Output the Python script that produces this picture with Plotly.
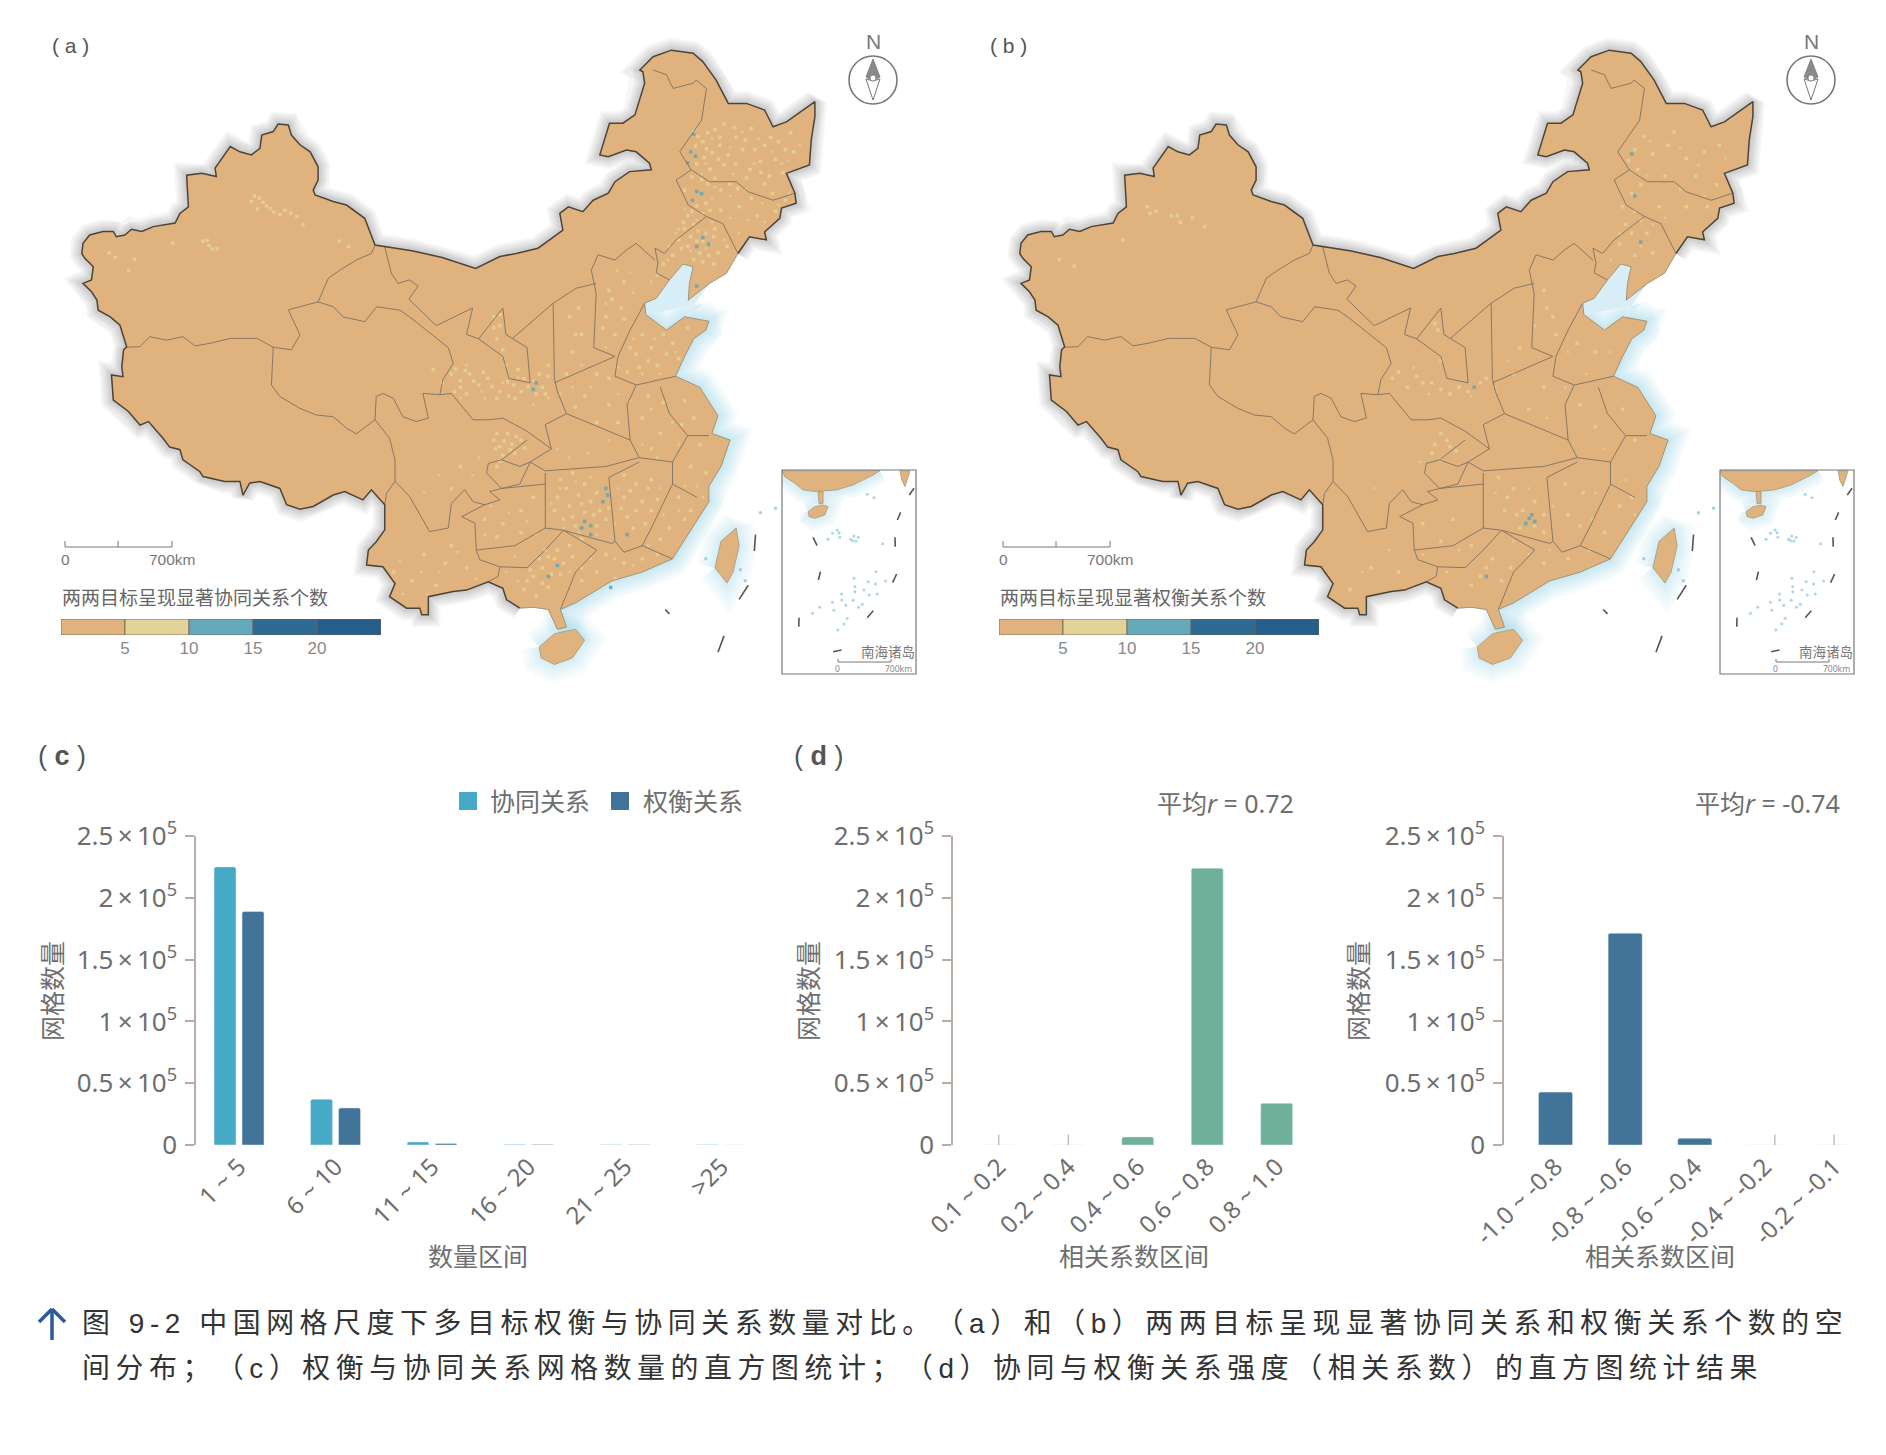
import plotly.graph_objects as go

W, H = 1886, 1455
SANS = "Noto Sans, Noto Sans CJK SC, sans-serif"
LATIN = "Liberation Sans, Noto Sans CJK SC, sans-serif"

# ---------- bar data ----------
count_bins = ["1 ~ 5", "6 ~ 10", "11 ~ 15", "16 ~ 20", "21 ~ 25", ">25"]
synergy_counts = [225000, 37000, 2500, 500, 250, 150]
tradeoff_counts = [189000, 30000, 1200, 350, 150, 100]

pos_bins = ["0.1 ~ 0.2", "0.2 ~ 0.4", "0.4 ~ 0.6", "0.6 ~ 0.8", "0.8 ~ 1.0"]
pos_counts = [0, 0, 6500, 224000, 33800]
neg_bins = ["-1.0 ~ -0.8", "-0.8 ~ -0.6", "-0.6 ~ -0.4", "-0.4 ~ -0.2", "-0.2 ~ -0.1"]
neg_counts = [42800, 171400, 5500, 0, 0]

count_ticks = [0, 50000, 100000, 150000, 200000, 250000]
count_ticktext = ["0", "0.5\u2009×\u200910<sup>5</sup>", "1\u2009×\u200910<sup>5</sup>", "1.5\u2009×\u200910<sup>5</sup>",
                  "2\u2009×\u200910<sup>5</sup>", "2.5\u2009×\u200910<sup>5</sup>"]

# ---------- map geometry, in planar map units ----------
border = [
    (858, 1382), (836, 1363), (830, 1337), (806, 1322), (770, 1341), (748, 1344), (707, 1356), (707, 1397), (696, 1397),
    (693, 1382), (671, 1382), (643, 1356), (652, 1326), (632, 1288), (605, 1284), (608, 1250), (621, 1231), (635, 1204),
    (635, 1147), (613, 1113), (599, 1136), (569, 1117), (550, 1125), (517, 1151), (495, 1157), (473, 1147), (462, 1110),
    (429, 1094), (412, 1098), (401, 1125), (396, 1094), (371, 1094), (335, 1083), (330, 1072), (302, 1045), (297, 1022),
    (280, 1016), (269, 996), (245, 958), (231, 966), (212, 935), (187, 909), (184, 852), (203, 856), (201, 833), (204, 795),
    (209, 788), (198, 739), (182, 720), (162, 705), (160, 682), (151, 663), (137, 644), (151, 636), (154, 606), (140, 587),
    (135, 576), (137, 553), (148, 534), (170, 526), (187, 526), (192, 538), (206, 534), (217, 521), (234, 526), (253, 515),
    (289, 507), (297, 485), (311, 470), (308, 398), (333, 394), (357, 401), (355, 382), (380, 333), (396, 345), (415, 352),
    (429, 337), (432, 307), (451, 299), (459, 282), (476, 284), (481, 307), (495, 329), (512, 345), (525, 379), (525, 409),
    (517, 432), (520, 443), (550, 458), (572, 466), (602, 496), (619, 557), (680, 570), (730, 585), (785, 610), (825, 583),
    (852, 576), (888, 564), (907, 545), (929, 523), (924, 485), (938, 470), (962, 481), (979, 455), (1004, 439), (1015, 413),
    (1039, 390), (1075, 386), (1072, 371), (1050, 345), (1034, 341), (1004, 356), (990, 352), (1006, 280), (1028, 280),
    (1048, 261), (1064, 189), (1061, 163), (1056, 159), (1078, 129), (1108, 114), (1144, 121), (1160, 140), (1182, 182),
    (1202, 235), (1232, 235), (1262, 250), (1276, 288), (1298, 277), (1345, 231), (1345, 265), (1339, 318), (1336, 375),
    (1298, 394), (1312, 439), (1314, 462), (1290, 473), (1287, 496), (1262, 527), (1265, 545), (1237, 538), (1218, 576),
]
coast = [
    (1218, 576), (1199, 621), (1171, 644), (1136, 682), (1138, 644), (1144, 606), (1127, 600), (1105, 636), (1083, 678),
    (1064, 689), (1066, 715), (1100, 750), (1130, 720), (1170, 730), (1165, 750), (1145, 770), (1130, 810), (1115, 855),
    (1155, 880), (1185, 945), (1175, 985), (1205, 1000), (1190, 1060), (1170, 1105), (1170, 1140), (1145, 1195), (1110, 1270),
    (1060, 1300), (1010, 1320), (950, 1370), (925, 1385), (935, 1425), (920, 1430), (905, 1385), (880, 1380), (858, 1382),
]
hainan = [(890, 1470), (915, 1440), (950, 1430), (965, 1455), (945, 1495), (915, 1510), (893, 1495), (890, 1470)]
taiwan = [(1180, 1290), (1190, 1230), (1215, 1200), (1220, 1240), (1210, 1300), (1200, 1325), (1180, 1290)]

# provincial boundaries, as separate polylines
provinces = [
    [(209, 789), (231, 788), (247, 765), (275, 773), (302, 765), (322, 786), (347, 780), (380, 769), (424, 769), (451, 789), (481, 795), (495, 761), (476, 704), (525, 686), (542, 632), (561, 614), (588, 591), (613, 576), (619, 557)],
    [(635, 561), (646, 621), (657, 644), (676, 636), (690, 650), (675, 680), (720, 740), (780, 700), (770, 760), (790, 770), (830, 700), (835, 760), (870, 790), (875, 870), (840, 860), (830, 810), (790, 770)],
    [(525, 686), (550, 697), (566, 720), (602, 731), (622, 697), (660, 705), (676, 720), (740, 790), (748, 826), (731, 863), (726, 897), (745, 894), (781, 954), (808, 954), (830, 950), (870, 980), (910, 1020), (875, 1050), (900, 1070), (1000, 1060), (1055, 1040), (1110, 1050), (1135, 990), (1170, 990)],
    [(451, 789), (448, 875), (462, 901), (495, 928), (522, 943), (550, 947), (572, 973), (588, 986), (619, 954), (621, 901), (632, 894), (649, 905), (665, 947), (687, 958), (707, 950), (698, 894), (726, 897)],
    [(619, 954), (643, 996), (652, 1045), (652, 1094), (638, 1121), (635, 1147)],
    [(652, 1094), (676, 1128), (709, 1208), (740, 1200), (745, 1144), (767, 1113), (781, 1140), (800, 1147), (825, 1136), (808, 1117), (828, 1110), (803, 1075), (806, 1053), (828, 1045), (870, 1000)],
    [(828, 1045), (858, 1060), (875, 1050), (858, 1100), (828, 1110), (900, 1100)],
    [(800, 1147), (762, 1174), (784, 1189), (786, 1250), (792, 1272), (825, 1288), (822, 1310), (806, 1322)],
    [(786, 1250), (850, 1240), (900, 1200)],
    [(1078, 159), (1100, 170), (1111, 201), (1144, 189), (1149, 182), (1166, 201), (1158, 273), (1122, 345), (1141, 386), (1116, 409), (1136, 466), (1166, 492)],
    [(1141, 386), (1171, 413), (1215, 413), (1235, 436), (1276, 455), (1312, 439)],
    [(1166, 492), (1193, 508), (1218, 576)],
    [(1166, 492), (1116, 545), (1097, 576), (1081, 564), (1086, 598), (1083, 620), (1105, 636)],
    [(1081, 591), (1050, 553), (1034, 568), (1015, 591), (987, 579), (976, 614), (984, 667), (980, 790), (1015, 810), (915, 870)],
    [(984, 644), (951, 655), (913, 689), (845, 770)],
    [(913, 689), (915, 860), (920, 890), (935, 940), (900, 965), (910, 1020)],
    [(1064, 689), (1040, 750), (1020, 810), (1015, 855), (1050, 875), (1115, 855)],
    [(935, 940), (1040, 1000), (1035, 920), (1050, 875)],
    [(1040, 1000), (1055, 1040)],
    [(1090, 880), (1105, 940), (1135, 990)],
    [(900, 1075), (900, 1200), (930, 1205), (1010, 1235), (1015, 1230), (1005, 1085)],
    [(1005, 1085), (1055, 1050)],
    [(1110, 1050), (1110, 1100), (1075, 1200), (1060, 1240), (1030, 1255), (1015, 1230)],
    [(1060, 1240), (1110, 1270)],
    [(1110, 1100), (1150, 1130)],
    [(930, 1205), (985, 1250), (950, 1300), (925, 1385)],
    [(825, 1288), (870, 1290), (900, 1250), (930, 1205)],
]

# grid cells with 5-10 significant pairs
cells_mid_a = [
    (1145, 300), (1160, 322), (1180, 295), (1195, 282), (1215, 312), (1240, 292), (1262, 330), (1285, 322), (1305, 302), (1175, 347),
    (1202, 352), (1226, 340), (1255, 367), (1280, 362), (1310, 345), (1150, 372), (1172, 385), (1195, 375), (1238, 385), (1270, 400),
    (1262, 418), (1292, 392), (1168, 418), (1190, 432), (1218, 428), (1240, 450), (1275, 440), (1296, 455), (1130, 432), (1165, 462),
    (1190, 478), (1220, 470), (1250, 490), (1280, 480), (1135, 490), (1130, 520), (1145, 510), (1165, 530), (1180, 520), (1172, 555),
    (1185, 575), (1155, 575), (1135, 560), (1120, 545), (1110, 580), (1160, 595), (1178, 600), (1095, 600),
    (1152, 310), (1168, 302), (1188, 312), (1148, 332), (1166, 338), (1188, 330), (1212, 290), (1230, 318), (1246, 340), (1272, 312),
    (1296, 340), (1162, 358), (1186, 362), (1214, 372), (1232, 404), (1256, 392), (1142, 402), (1158, 408), (1180, 405), (1205, 418),
    (1150, 468), (1172, 478), (1142, 480), (1160, 485), (1128, 505), (1152, 525), (1140, 538), (1160, 548), (1150, 548), (1178, 538),
    (1125, 565), (1145, 590), (1170, 580), (1200, 560), (1105, 560), (1085, 625),
    (415, 458), (428, 450), (440, 468), (452, 482), (470, 478), (490, 492), (500, 510), (425, 475), (335, 548), (345, 558), (358, 565),
    (420, 446), (434, 460), (446, 474), (462, 488), (480, 484), (342, 546), (350, 566),
    (285, 552), (180, 575), (190, 585), (222, 590), (212, 615), (560, 548), (575, 560), (815, 720), (825, 740), (820, 770),
    (745, 850), (760, 865), (775, 850), (790, 875), (805, 860), (825, 890), (848, 875), (860, 890), (895, 880), (905, 855), (750, 890),
    (770, 895), (835, 830), (855, 840), (830, 795), (715, 840), (730, 870), (960, 760), (945, 800), (935, 850), (955, 700), (1000, 720),
    (752, 838), (768, 842), (782, 866), (798, 846), (812, 878), (838, 868), (872, 878), (885, 895), (900, 895), (840, 900), (760, 880),
    (820, 905), (850, 905), (865, 860), (890, 850), (905, 830), (825, 715), (815, 745),
    (1010, 680), (1030, 640), (1015, 760), (1040, 790), (1060, 760), (1075, 790), (1095, 760), (1110, 780), (1055, 835), (1085, 830),
    (1025, 700), (1005, 660), (995, 745), (1030, 725), (1050, 805), (1070, 820), (1100, 805), (1035, 845), (1120, 815), (1135, 745),
    (985, 850), (965, 900), (1005, 920), (985, 960), (1070, 900), (1060, 950), (1090, 985), (1075, 1020), (1130, 910), (1145, 950),
    (1125, 965), (1155, 1010), (1140, 1060), (1165, 1075), (950, 760), (940, 720), (1005, 860), (950, 925), (1020, 960), (1095, 915),
    (815, 1000), (825, 1015), (838, 985), (845, 1010), (860, 1000), (830, 1035), (850, 1030), (820, 1060), (760, 1060), (745, 1110),
    (820, 985), (832, 1002), (852, 992), (842, 1022), (825, 1048), (818, 1020), (866, 1018),
    (925, 1090), (945, 1075), (965, 1100), (985, 1120), (920, 1130), (940, 1150), (960, 1145), (980, 1170), (930, 1180), (1000, 1180),
    (935, 1110), (955, 1125), (975, 1140), (990, 1160), (915, 1160), (945, 1175), (965, 1165), (985, 1195), (950, 1195), (1005, 1155),
    (1030, 1080), (1050, 1100), (1075, 1090), (1030, 1130), (1060, 1140), (1085, 1135), (1035, 1175), (1065, 1190), (1120, 1130), (1140, 1160),
    (1040, 1115), (1070, 1110), (1025, 1155), (1050, 1160), (1075, 1160), (1045, 1200), (1130, 1180), (1105, 1200), (1090, 1225),
    (800, 1180), (830, 1190), (860, 1160), (880, 1130), (820, 1220), (860, 1210), (900, 1250), (915, 1270), (895, 1290), (880, 1310),
    (925, 1305), (905, 1335), (865, 1340), (885, 1355), (940, 1240), (960, 1225), (1000, 1260), (1030, 1280), (1060, 1270), (1085, 1260),
    (905, 1265), (920, 1250), (930, 1280), (910, 1305), (895, 1325), (875, 1295), (890, 1270), (945, 1265), (960, 1290), (870, 1320),
    (985, 1300), (1015, 1315), (960, 1320), (700, 1260), (735, 1280), (680, 1320), (720, 1330), (770, 1290), (650, 1300), (745, 1240),
]
cells_fine_a = [
    (1150, 290), (1175, 315), (1205, 335), (1225, 300), (1252, 315), (1275, 345), (1300, 365), (1320, 330), (1165, 372), (1210, 395),
    (1245, 372), (1290, 372), (1158, 395), (1180, 425), (1205, 445), (1230, 430), (1258, 462), (1285, 465), (1302, 440), (1175, 450),
    (1150, 500), (1175, 505), (1205, 495), (1235, 500), (1262, 505), (1130, 475), (1120, 520), (1140, 570), (1165, 565), (1195, 545),
    (1220, 530), (1115, 530), (1102, 590), (1130, 600), (1075, 640), (1040, 620), (1018, 615), (1000, 690), (1045, 665),
    (770, 830), (795, 890), (830, 870), (855, 858), (880, 865), (800, 905), (905, 905), (880, 920), (925, 895), (945, 880), (760, 905),
    (1000, 790), (1020, 835), (1045, 770), (1080, 770), (1115, 800), (1060, 850), (1090, 850), (960, 830), (975, 880), (1020, 895),
    (1040, 910), (1075, 930), (1110, 960), (1085, 1040), (1060, 1010), (1005, 1000), (970, 1030), (940, 1040), (920, 1020), (1120, 1010),
    (925, 1110), (950, 1095), (975, 1085), (910, 1145), (930, 1200), (955, 1210), (985, 1215), (1015, 1190), (1020, 1110), (1090, 1110),
    (1095, 1170), (1120, 1160), (1150, 1105), (1160, 1130), (1130, 1105), (1015, 1270), (1045, 1285), (1070, 1240), (975, 1270), (940, 1300),
    (800, 1215), (840, 1165), (810, 1150), (870, 1185), (885, 1215), (850, 1265), (835, 1300), (855, 1320), (785, 1315), (755, 1255),
    (695, 1300), (660, 1275), (725, 1300), (705, 1350), (665, 1350), (790, 1040), (780, 1080), (725, 1080), (700, 1120),
]
cells_high_a = [
    (1145, 305), (1140, 345), (1148, 355), (1135, 370), (1150, 435), (1143, 455), (1158, 440), (1160, 540), (1150, 560), (1170, 555),
    (1000, 1110), (1003, 1125), (995, 1140), (965, 1185), (975, 1195), (960, 1200), (880, 885), (885, 870), (920, 1285), (905, 1310),
    (1035, 1215), (1008, 1335), (1150, 650), (975, 1215),
]
cells_mid_b = [
    (1150, 340), (1180, 350), (1205, 330), (1235, 360), (1265, 345), (1290, 330), (1155, 385), (1200, 400), (1250, 400), (1285, 420),
    (1145, 440), (1190, 470), (1235, 470), (1270, 470), (1135, 510), (1170, 530), (1150, 580), (1125, 555), (1160, 500), (1180, 575),
    (1140, 365), (1165, 310), (1215, 300), (1160, 420), (1130, 470), (1150, 480), (1145, 530),
    (345, 470), (360, 480), (385, 490), (400, 505), (420, 495), (440, 515), (305, 545), (200, 590), (225, 605), (350, 485), (395, 490),
    (750, 860), (775, 880), (800, 870), (830, 885), (860, 880), (895, 870), (830, 820), (825, 750), (960, 790), (950, 850),
    (760, 845), (790, 855), (815, 870), (845, 895), (875, 890), (905, 860), (820, 735), (1000, 660), (1015, 720),
    (1005, 700), (1020, 760), (1055, 780), (1085, 800), (1000, 880), (975, 930), (1060, 920), (1085, 970), (1130, 930), (1150, 1000),
    (820, 1010), (840, 1000), (855, 1025), (830, 1045), (925, 1085), (950, 1110), (985, 1140), (935, 1160), (960, 1200), (1000, 1210),
    (830, 985), (845, 1015), (815, 1030), (940, 1130), (965, 1160), (1000, 1170), (985, 1195), (955, 1170),
    (1035, 1100), (1065, 1120), (1040, 1170), (1080, 1180), (1125, 1150), (800, 1190), (850, 1180), (830, 1230), (880, 1240),
    (905, 1290), (880, 1330), (930, 1320), (1000, 1280), (1040, 1270), (1075, 1250), (715, 1290), (760, 1300), (680, 1340),
    (895, 1310), (915, 1270), (945, 1290), (1060, 1195), (1100, 1210), (1145, 1130),
]
cells_fine_b = [
    (1175, 320), (1225, 335), (1255, 375), (1300, 360), (1170, 400), (1225, 430), (1265, 445), (1200, 495), (1180, 510), (1125, 530),
    (1160, 560), (1110, 590), (785, 835), (810, 895), (880, 900), (920, 880), (940, 820), (985, 740), (1040, 800), (1070, 850),
    (1110, 800), (1035, 880), (1005, 950), (1100, 1020), (920, 1120), (975, 1110), (1015, 1150), (1085, 1120), (1135, 1090), (1150, 1170),
    (1010, 1250), (975, 1260), (950, 1230), (860, 1250), (800, 1260), (840, 1300), (745, 1250), (700, 1300), (720, 1110), (795, 1050),
]
cells_high_b = [
    (976, 1178), (985, 1185), (970, 1190), (980, 1170), (1145, 350), (1150, 445), (1160, 550), (885, 880), (905, 1310),
]

# southern sea dashes and outlying islets
dash_x = [1247, 1245, None, 1235, 1220, None, 1195, 1185, None, 1098, 1105]
dash_y = [1215, 1252, None, 1330, 1362, None, 1445, 1482, None, 1385, 1395]
islet_x = [1255, 1280, 1165, 1222, 1230]
islet_y = [1165, 1155, 1270, 1295, 1320]

# inset of the South China Sea, in its own planar units
inset_coast_x = [68, 75, 105, 130, 170, 230, 280, 340, 360, 68]
inset_coast_y = [62, 80, 100, 120, 125, 120, 105, 75, 62, 62]
inset_hainan_x = [145, 165, 190, 205, 195, 165, 148, 145]
inset_hainan_y = [185, 170, 165, 170, 195, 205, 200, 185]
inset_peninsula_x = [175, 190, 190, 178, 175]
inset_peninsula_y = [125, 125, 160, 162, 125]
inset_taiwan_x = [420, 450, 445, 435, 425, 420]
inset_taiwan_y = [62, 62, 80, 110, 90, 62]
inset_dash_x = [160, 172, None, 182, 176, None, 118, 117, None, 220, 245, None, 340, 322, None, 410, 398, None, 405, 406, None, 422, 412, None, 462, 448]
inset_dash_y = [262, 287, None, 365, 390, None, 503, 530, None, 605, 600, None, 482, 503, None, 372, 398, None, 262, 290, None, 187, 210, None, 115, 135]
inset_islet_x = [322, 342, 218, 232, 240, 205, 238, 272, 282, 295, 278, 288, 368, 348, 282, 285, 325, 347, 377, 285, 312, 328, 352, 245, 218, 246, 258, 280, 296, 307, 180, 222, 158, 262, 252, 234]
inset_islet_y = [133, 143, 250, 240, 262, 268, 248, 268, 258, 262, 272, 273, 281, 365, 385, 410, 395, 402, 393, 425, 420, 435, 432, 432, 457, 450, 466, 451, 472, 463, 472, 481, 490, 505, 522, 540]

# ---------- colour legend ----------
class_edges = [0, 5, 10, 15, 20]
class_width = [5, 5, 5, 5, 5]
class_colors = ["#e0b27d", "#e3d39a", "#64aabb", "#2f6a92", "#265f8b"]
class_ticks = [5, 10, 15, 20]

LAND = "#e0b27d"
MID = "#e3d39a"
HIGH = "#5fa7b5"
GREY = "#6f6f6f"
AXIS = "#b8aca6"
TEAL_BAR = "#46a9c5"
BLUE_BAR = "#417498"
GREEN_BAR = "#6fb09a"

fig = go.Figure()
layout = {}
annotations = []
shapes = []
axis_count = 0


def px(x):
    return x / W


def py(y):
    return 1 - y / H


def new_axes(x0, x1, y0, y1):
    """Register a pair of axes over a pixel rectangle and return their names."""
    global axis_count
    axis_count += 1
    suffix = "" if axis_count == 1 else str(axis_count)
    layout[f"xaxis{suffix}"] = dict(domain=[px(x0), px(x1)], anchor=f"y{suffix}", visible=False, fixedrange=True,
                                    automargin=False)
    layout[f"yaxis{suffix}"] = dict(domain=[py(y1), py(y0)], anchor=f"x{suffix}", visible=False, fixedrange=True,
                                    automargin=False)
    return f"x{suffix}", f"y{suffix}", f"xaxis{suffix}", f"yaxis{suffix}"


def text(x, y, s, size, color="#666666", family=SANS, anchor="center", angle=0):
    annotations.append(dict(x=px(x), y=py(y), xref="paper", yref="paper", text=s, showarrow=False,
                            xanchor=anchor, yanchor="middle", textangle=angle,
                            font=dict(size=size, color=color, family=family)))


def line(x0, y0, x1, y1, color=GREY, width=1):
    shapes.append(dict(type="line", xref="paper", yref="paper", x0=px(x0), y0=py(y0), x1=px(x1), y1=py(y1),
                       line=dict(color=color, width=width)))


def polygon(points, fill, color=GREY, width=1):
    path = "M" + " L".join(f"{px(a)},{py(b)}" for a, b in points) + " Z"
    shapes.append(dict(type="path", xref="paper", yref="paper", path=path, fillcolor=fill,
                       line=dict(color=color, width=width)))


def unzip(points):
    return [p[0] for p in points], [p[1] for p in points]


def add_line(xa, ya, xs, ys, color, width, opacity=1.0):
    fig.add_trace(go.Scatter(x=xs, y=ys, mode="lines", xaxis=xa, yaxis=ya, opacity=opacity, hoverinfo="skip",
                             line=dict(color=color, width=width), showlegend=False))


def add_fill(xa, ya, xs, ys, color, edge, width):
    fig.add_trace(go.Scatter(x=xs, y=ys, mode="lines", fill="toself", fillcolor=color, xaxis=xa, yaxis=ya,
                             hoverinfo="skip", line=dict(color=edge, width=width), showlegend=False))


def add_dots(xa, ya, xs, ys, color, size, opacity=1.0, symbol="square"):
    fig.add_trace(go.Scatter(x=xs, y=ys, mode="markers", xaxis=xa, yaxis=ya, hoverinfo="skip", showlegend=False,
                             marker=dict(color=color, size=size, opacity=opacity, symbol=symbol, line=dict(width=0))))


def draw_map(dx, cells_mid, cells_fine, cells_high, label, legend_title):
    # main map: planar units run at 1568 per 950 pixels across and 1568 per 690 pixels down
    xa, ya, xn, yn = new_axes(dx, dx + 940, 0, 690)
    layout[xn]["range"] = [0, 940 * 1568 / 950]
    layout[yn]["range"] = [1568, 0]

    border_x, border_y = unzip(border)
    coast_x, coast_y = unzip(coast)
    hainan_x, hainan_y = unzip(hainan)
    taiwan_x, taiwan_y = unzip(taiwan)
    # the glow stops short of the Gulf of Tonkin end of the coast
    glow_x, glow_y = unzip(coast[9:-3])

    # soft shadow on the land border, pale glow along the sea
    for width in (24, 20, 16, 12, 9, 6):
        add_line(xa, ya, border_x, border_y, "#666666", width, 0.055)
    for width in (36, 30, 25, 20, 16, 12, 8, 5):
        add_line(xa, ya, glow_x, glow_y, "#a5dcee", width, 0.09)
        add_line(xa, ya, hainan_x, hainan_y, "#a5dcee", width, 0.06)
        add_line(xa, ya, taiwan_x, taiwan_y, "#a5dcee", width, 0.06)
    # the Bohai basin reads as a pale blue wash
    add_fill(xa, ya, *unzip(coast[2:11] + [(1160, 690), (1120, 740)]), "#d8eef6", "rgba(0,0,0,0)", 0)

    add_fill(xa, ya, border_x + coast_x[1:], border_y + coast_y[1:], LAND, LAND, 0.5)
    add_fill(xa, ya, hainan_x, hainan_y, LAND, "#a39a7c", 0.8)
    add_fill(xa, ya, taiwan_x, taiwan_y, LAND, "#a39a7c", 0.8)

    add_dots(xa, ya, *unzip(cells_fine), MID, 2.5, 0.75)
    add_dots(xa, ya, *unzip(cells_mid), MID, 3.5, 0.8)
    add_dots(xa, ya, *unzip(cells_high), HIGH, 3.5, 0.85)

    for segment in provinces:
        seg_x, seg_y = unzip(segment)
        add_line(xa, ya, seg_x, seg_y, "#7d7264", 0.9)
    add_line(xa, ya, border_x, border_y, "#4b4439", 1.5)
    add_line(xa, ya, coast_x, coast_y, "#8f8c74", 0.8)
    add_line(xa, ya, dash_x, dash_y, "#555555", 1.6)
    add_dots(xa, ya, islet_x, islet_y, "#8cc8dc", 3.5, 0.8, "circle")

    # inset frame and its contents
    ia, ib, ixn, iyn = new_axes(dx + 782, dx + 916, 470, 674)
    layout[ixn]["range"] = [67, 468]
    layout[iyn]["range"] = [672, 60]
    for width in (24, 18, 12, 7):
        add_line(ia, ib, inset_coast_x[:9], inset_coast_y[:9], "#a5dcee", width, 0.12)
        add_line(ia, ib, inset_hainan_x, inset_hainan_y, "#a5dcee", width, 0.1)
    add_fill(ia, ib, inset_coast_x, inset_coast_y, LAND, "#8f8c74", 0.6)
    add_fill(ia, ib, inset_peninsula_x, inset_peninsula_y, LAND, "#8f8c74", 0.6)
    add_fill(ia, ib, inset_hainan_x, inset_hainan_y, LAND, "#8f8c74", 0.6)
    add_fill(ia, ib, inset_taiwan_x, inset_taiwan_y, LAND, "#8f8c74", 0.6)
    add_line(ia, ib, inset_dash_x, inset_dash_y, "#555555", 1.6)
    add_dots(ia, ib, inset_islet_x, inset_islet_y, "#8cc8dc", 3, 0.75, "circle")
    shapes.append(dict(type="rect", xref="paper", yref="paper", x0=px(dx + 782), x1=px(dx + 916),
                       y0=py(674), y1=py(470), line=dict(color="#777777", width=1.2)))
    text(dx + 888, 652, "南海诸岛", 13.5, "#777777")
    line(dx + 838, 662, dx + 891, 662, "#777777", 1)
    line(dx + 838, 662, dx + 838, 659, "#777777", 1)
    line(dx + 891, 662, dx + 891, 659, "#777777", 1)
    text(dx + 837, 669, "0", 8.5, "#888888")
    text(dx + 898, 669, "700km", 8.5, "#888888")

    # panel label
    text(dx + 70, 45, label, 21, "#555555", LATIN)

    # north arrow
    cx = dx + 873
    text(cx, 41, "N", 21, "#777777", LATIN)
    shapes.append(dict(type="circle", xref="paper", yref="paper", x0=px(cx - 24), x1=px(cx + 24),
                       y0=py(104), y1=py(56), line=dict(color="#777777", width=1.6)))
    polygon([(cx, 59), (cx + 7, 77), (cx, 81), (cx - 7, 77)], "#8a8a8a", "#777777", 0.8)
    polygon([(cx - 7, 79), (cx, 100), (cx + 7, 79), (cx, 81)], "white", "#777777", 1)
    shapes.append(dict(type="circle", xref="paper", yref="paper", x0=px(cx - 3), x1=px(cx + 3),
                       y0=py(81), y1=py(75), fillcolor="white", line=dict(color="#777777", width=0.8)))

    # scale bar
    line(dx + 65, 547, dx + 172, 547, "#777777", 1.1)
    for tick in (65, 118, 172):
        line(dx + tick, 541, dx + tick, 547, "#777777", 1)
    text(dx + 65, 559, "0", 15.5, "#777777", LATIN)
    text(dx + 172, 559, "700km", 15.5, "#777777", LATIN)

    # class legend, drawn as stacked bars on its own value axis
    text(dx + 60, 598, legend_title, 19, "#666666", anchor="left")
    la, lb, lxn, lyn = new_axes(dx + 61, dx + 381, 619, 635)
    layout[lxn].update(range=[0, 25], visible=True, tickvals=class_ticks, showline=False, showgrid=False,
                       zeroline=False, ticks="", side="bottom", ticklabelstandoff=1,
                       tickfont=dict(size=17, color="#888888", family=LATIN))
    layout[lyn]["range"] = [-0.5, 0.5]
    fig.add_trace(go.Bar(x=class_width, y=[0] * len(class_width), base=class_edges, orientation="h", width=1,
                         marker=dict(color=class_colors, line=dict(color="#6b6355", width=0.8)),
                         xaxis=la, yaxis=lb, hoverinfo="skip", showlegend=False))


def bar_axes(x0, x1, y0, y1, cats, cat_min, cat_max):
    xa, ya, xn, yn = new_axes(x0, x1, y0, y1)
    layout[xn].update(visible=True, type="linear", range=[cat_min, cat_max], tickmode="array",
                      tickvals=list(range(len(cats))), ticktext=cats, tickangle=-45, showline=False, showgrid=False,
                      zeroline=False, ticks="", ticklabelstandoff=2,
                      tickfont=dict(size=24, color="#6e6e6e", family=SANS))
    layout[yn].update(visible=True, range=[0, 250000], tickmode="array", tickvals=count_ticks,
                      ticktext=count_ticktext, showline=True, linecolor=AXIS, linewidth=1.5, showgrid=False,
                      zeroline=False, ticks="outside", ticklen=9, tickcolor=AXIS, tickwidth=1.5,
                      ticklabelstandoff=3, tickfont=dict(size=26, color="#6e6e6e", family=SANS))
    return xa, ya


draw_map(0, cells_mid_a, cells_fine_a, cells_high_a, "( a )", "两两目标呈现显著协同关系个数")
draw_map(938, cells_mid_b, cells_fine_b, cells_high_b, "( b )", "两两目标呈现显著权衡关系个数")

# panel (c): counts of grid cells by number of significant pairs
cx_, cy_ = bar_axes(196, 744, 836, 1145, count_bins, -0.446, 5.233)
positions = list(range(len(count_bins)))
fig.add_trace(go.Bar(x=positions, y=synergy_counts, width=0.228, offset=-0.259, marker=dict(color=TEAL_BAR, cornerradius=2),
                     xaxis=cx_, yaxis=cy_, name="协同关系", showlegend=False))
fig.add_trace(go.Bar(x=positions, y=tradeoff_counts, width=0.228, offset=0.031, marker=dict(color=BLUE_BAR, cornerradius=2),
                     xaxis=cx_, yaxis=cy_, name="权衡关系", showlegend=False))
text(62, 756, "( <b>c</b> )", 27, "#555555", LATIN)
for lx, tx, label_, color in [(468, 540, "协同关系", TEAL_BAR), (620, 693, "权衡关系", BLUE_BAR)]:
    shapes.append(dict(type="rect", xref="paper", yref="paper", x0=px(lx - 9), x1=px(lx + 9), y0=py(810), y1=py(792),
                       fillcolor=color, line=dict(width=0)))
    text(tx, 801, label_, 25, "#6e6e6e")
text(478, 1256, "数量区间", 25, "#6e6e6e")
text(52, 991, "网格数量", 25, "#6e6e6e", angle=-90)

# panel (d): counts of grid cells by correlation strength
d1x, d1y = bar_axes(953, 1310, 836, 1145, pos_bins, -0.66, 4.48)
fig.add_trace(go.Bar(x=list(range(5)), y=pos_counts, width=0.46, marker=dict(color=GREEN_BAR, cornerradius=2),
                     xaxis=d1x, yaxis=d1y, showlegend=False))
add_line(d1x, d1y, [0, 0, None, 1, 1], [0, 8500, None, 0, 8500], "#aaa39c", 1)

d2x, d2y = bar_axes(1504, 1848, 836, 1145, neg_bins, -0.74, 4.2)
fig.add_trace(go.Bar(x=list(range(5)), y=neg_counts, width=0.49, marker=dict(color=BLUE_BAR, cornerradius=2),
                     xaxis=d2x, yaxis=d2y, showlegend=False))
add_line(d2x, d2y, [3.15, 3.15, None, 4, 4], [0, 8500, None, 0, 8500], "#aaa39c", 1)

text(819, 756, "( <b>d</b> )", 27, "#555555", LATIN)
text(1225, 803, "平均<i>r</i> = 0.72", 25, "#6e6e6e")
text(1767, 803, "平均<i>r</i> = -0.74", 25, "#6e6e6e")
text(1134, 1256, "相关系数区间", 25, "#6e6e6e")
text(1660, 1256, "相关系数区间", 25, "#6e6e6e")
text(808, 991, "网格数量", 25, "#6e6e6e", angle=-90)
text(1358, 991, "网格数量", 25, "#6e6e6e", angle=-90)

# figure caption with a leading arrow
ARROW = "#2b5a9a"
line(52, 1309, 52, 1340, ARROW, 3.5)
line(39, 1322, 52, 1309, ARROW, 3.5)
line(65, 1322, 52, 1309, ARROW, 3.5)
spaced = "\u2009"
caption_lines = [
    "图 9-2 中国网格尺度下多目标权衡与协同关系数量对比。（a）和（b）两两目标呈现显著协同关系和权衡关系个数的空",
    "间分布；（c）权衡与协同关系网格数量的直方图统计；（d）协同与权衡关系强度（相关系数）的直方图统计结果",
]
text(80, 1323, spaced.join(caption_lines[0]), 27.9, "#333333", LATIN, anchor="left")
text(80, 1368, spaced.join(caption_lines[1]), 27.9, "#333333", LATIN, anchor="left")

fig.update_layout(width=W, height=H, autosize=False, margin=dict(l=0, r=0, t=0, b=0, autoexpand=False),
                  paper_bgcolor="white", plot_bgcolor="rgba(0,0,0,0)", showlegend=False, barmode="overlay",
                  annotations=annotations, shapes=shapes, **layout)
fig.write_html("out.html", config={"displayModeBar": False})
